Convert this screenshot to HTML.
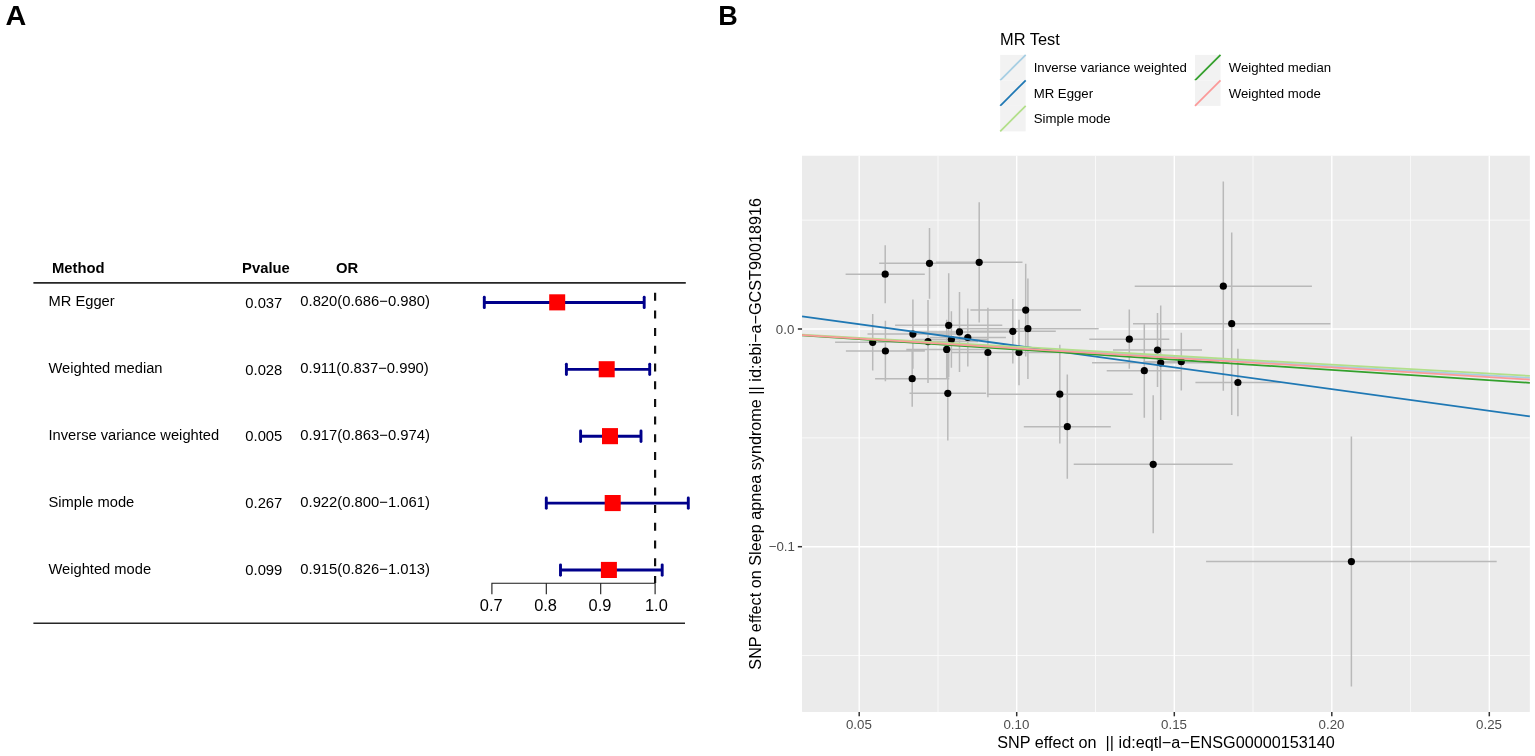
<!DOCTYPE html>
<html lang="en"><head><meta charset="utf-8"><title>MR forest and scatter plot</title>
<style>html,body{margin:0;padding:0;background:#fff;}body{width:1535px;height:756px;overflow:hidden;}svg{display:block;}text{font-family:"Liberation Sans",sans-serif;fill:#000;}</style>
</head><body>
<svg width="1535" height="756" viewBox="0 0 1535 756">
<rect x="0" y="0" width="1535" height="756" fill="#ffffff"/>
<text transform="translate(5.5,25) scale(1.065,1)" font-size="27" font-weight="bold">A</text>
<text x="718.2" y="24.9" font-size="27" font-weight="bold">B</text>
<g id="forest">
<line x1="33.4" y1="282.85" x2="685.8" y2="282.85" stroke="#262626" stroke-width="1.7"/>
<line x1="33.4" y1="623.3" x2="685" y2="623.3" stroke="#262626" stroke-width="1.5"/>
<text x="52" y="273.3" font-size="14.8" font-weight="bold">Method</text>
<text x="242.1" y="273.1" font-size="14.8" font-weight="bold">Pvalue</text>
<text x="336.1" y="273.1" font-size="14.8" font-weight="bold">OR</text>
<text x="48.5" y="306.1" font-size="14.7">MR Egger</text>
<text x="245.3" y="307.6" font-size="14.8">0.037</text>
<text x="300.3" y="306.2" font-size="14.8">0.820(0.686−0.980)</text>
<text x="48.5" y="373.0" font-size="14.7">Weighted median</text>
<text x="245.3" y="374.5" font-size="14.8">0.028</text>
<text x="300.3" y="373.1" font-size="14.8">0.911(0.837−0.990)</text>
<text x="48.5" y="439.9" font-size="14.7">Inverse variance weighted</text>
<text x="245.3" y="441.4" font-size="14.8">0.005</text>
<text x="300.3" y="440.1" font-size="14.8">0.917(0.863−0.974)</text>
<text x="48.5" y="506.9" font-size="14.7">Simple mode</text>
<text x="245.3" y="508.4" font-size="14.8">0.267</text>
<text x="300.3" y="507.0" font-size="14.8">0.922(0.800−1.061)</text>
<text x="48.5" y="573.8" font-size="14.7">Weighted mode</text>
<text x="245.3" y="575.2" font-size="14.8">0.099</text>
<text x="300.3" y="573.9" font-size="14.8">0.915(0.826−1.013)</text>
<line x1="655.1" y1="292.7" x2="655.1" y2="583" stroke="#111" stroke-width="2.2" stroke-dasharray="8 9.7"/>
<g stroke="#00008b" stroke-width="2.9" stroke-linecap="round"><line x1="484.3" y1="302.45" x2="644.2" y2="302.45" stroke-linecap="butt"/><line x1="484.3" y1="297.25" x2="484.3" y2="307.65"/><line x1="644.2" y1="297.25" x2="644.2" y2="307.65"/></g>
<rect x="549.2" y="294.3" width="16" height="16.1" fill="#fe0000"/>
<g stroke="#00008b" stroke-width="2.9" stroke-linecap="round"><line x1="566.4" y1="369.35" x2="649.7" y2="369.35" stroke-linecap="butt"/><line x1="566.4" y1="364.15000000000003" x2="566.4" y2="374.55"/><line x1="649.7" y1="364.15000000000003" x2="649.7" y2="374.55"/></g>
<rect x="598.7" y="361.2" width="16" height="16.1" fill="#fe0000"/>
<g stroke="#00008b" stroke-width="2.9" stroke-linecap="round"><line x1="580.6" y1="436.25" x2="641.0" y2="436.25" stroke-linecap="butt"/><line x1="580.6" y1="431.05" x2="580.6" y2="441.45"/><line x1="641.0" y1="431.05" x2="641.0" y2="441.45"/></g>
<rect x="602.0" y="428.1" width="16" height="16.1" fill="#fe0000"/>
<g stroke="#00008b" stroke-width="2.9" stroke-linecap="round"><line x1="546.3" y1="503.15" x2="688.3" y2="503.15" stroke-linecap="butt"/><line x1="546.3" y1="497.95" x2="546.3" y2="508.34999999999997"/><line x1="688.3" y1="497.95" x2="688.3" y2="508.34999999999997"/></g>
<rect x="604.7" y="495.0" width="16" height="16.1" fill="#fe0000"/>
<g stroke="#00008b" stroke-width="2.9" stroke-linecap="round"><line x1="560.5" y1="570.05" x2="662.2" y2="570.05" stroke-linecap="butt"/><line x1="560.5" y1="564.8499999999999" x2="560.5" y2="575.25"/><line x1="662.2" y1="564.8499999999999" x2="662.2" y2="575.25"/></g>
<rect x="600.9" y="561.9" width="16" height="16.1" fill="#fe0000"/>
<g stroke="#1a1a1a" stroke-width="1.1" fill="none">
<path d="M491.9 594.3V583.2H655.1V594.3"/>
<path d="M546.3 583.2V594.3M600.7 583.2V594.3"/>
</g>
<text x="491.2" y="611.1" font-size="16.4" text-anchor="middle">0.7</text>
<text x="545.6" y="611.1" font-size="16.4" text-anchor="middle">0.8</text>
<text x="600.0" y="611.1" font-size="16.4" text-anchor="middle">0.9</text>
<text x="656.4" y="611.1" font-size="16.4" text-anchor="middle">1.0</text>
</g>
<g id="scatter">
<rect x="802.05" y="155.75" width="727.8" height="556.2" fill="#ebebeb"/>
<g stroke="#fafafa" stroke-width="0.9">
<line x1="938.0" y1="155.75" x2="938.0" y2="712.0"/>
<line x1="1095.5" y1="155.75" x2="1095.5" y2="712.0"/>
<line x1="1253.0" y1="155.75" x2="1253.0" y2="712.0"/>
<line x1="1410.6" y1="155.75" x2="1410.6" y2="712.0"/>
<line x1="802.05" y1="220.1" x2="1529.85" y2="220.1"/>
<line x1="802.05" y1="437.9" x2="1529.85" y2="437.9"/>
<line x1="802.05" y1="655.5" x2="1529.85" y2="655.5"/>
</g>
<g stroke="#ffffff" stroke-width="1.4">
<line x1="859.2" y1="155.75" x2="859.2" y2="712.0"/>
<line x1="1016.7" y1="155.75" x2="1016.7" y2="712.0"/>
<line x1="1174.3" y1="155.75" x2="1174.3" y2="712.0"/>
<line x1="1331.8" y1="155.75" x2="1331.8" y2="712.0"/>
<line x1="1489.3" y1="155.75" x2="1489.3" y2="712.0"/>
<line x1="802.05" y1="329.0" x2="1529.85" y2="329.0"/>
<line x1="802.05" y1="546.7" x2="1529.85" y2="546.7"/>
</g>
<path d="M885.2 245.2V303.2M929.5 227.9V298.7M979.2 202.2V322.4M872.7 314.0V370.6M885.4 320.8V381.2M912.9 299.5V368.7M912.2 350.7V406.7M928.0 300.1V383.1M948.7 273.3V377.3M946.7 319.8V379.0M951.4 311.3V367.7M959.5 291.9V371.9M967.8 308.4V366.6M987.9 307.8V397.2M1012.8 299.1V363.5M1025.7 263.8V356.4M1027.9 278.5V378.9M1019.0 319.8V385.2M947.8 346.1V440.5M1059.8 344.8V443.6M1067.3 374.6V478.8M1129.3 309.6V368.8M1157.5 313.0V387.0M1160.7 305.5V420.1M1181.3 332.8V390.6M1144.3 323.7V417.7M1237.9 348.7V416.3M1223.3 181.6V390.8M1231.7 232.4V415.0M1153.2 395.3V533.3M1351.4 436.6V686.6M845.6 274.2H924.8M879.2 263.3H979.8M935.9 262.3H1022.5M835.1 342.3H910.3M845.9 351.0H924.9M867.5 334.1H958.3M875.1 378.7H949.3M878.0 341.6H978.0M895.1 325.3H1002.3M906.3 349.4H987.1M914.4 339.5H988.4M909.5 331.9H1009.5M929.7 337.5H1005.9M950.9 352.5H1024.9M969.8 331.3H1055.8M970.4 310.1H1081.0M957.1 328.7H1098.7M977.0 352.5H1061.0M909.5 393.3H986.1M986.9 394.2H1132.7M1023.8 426.7H1110.8M1089.3 339.2H1169.3M1113.0 350.0H1202.0M1092.0 362.8H1229.4M1143.3 361.7H1219.3M1106.7 370.7H1181.9M1195.4 382.5H1280.4M1134.7 286.2H1311.9M1133.0 323.7H1330.4M1073.7 464.3H1232.7M1206.1 561.6H1496.7" stroke="#b9b9b9" stroke-width="1.5" fill="none"/>
<g fill="#000">
<circle cx="885.2" cy="274.2" r="3.6"/>
<circle cx="929.5" cy="263.3" r="3.6"/>
<circle cx="979.2" cy="262.3" r="3.6"/>
<circle cx="872.7" cy="342.3" r="3.6"/>
<circle cx="885.4" cy="351.0" r="3.6"/>
<circle cx="912.9" cy="334.1" r="3.6"/>
<circle cx="912.2" cy="378.7" r="3.6"/>
<circle cx="928.0" cy="341.6" r="3.6"/>
<circle cx="948.7" cy="325.3" r="3.6"/>
<circle cx="946.7" cy="349.4" r="3.6"/>
<circle cx="951.4" cy="339.5" r="3.6"/>
<circle cx="959.5" cy="331.9" r="3.6"/>
<circle cx="967.8" cy="337.5" r="3.6"/>
<circle cx="987.9" cy="352.5" r="3.6"/>
<circle cx="1012.8" cy="331.3" r="3.6"/>
<circle cx="1025.7" cy="310.1" r="3.6"/>
<circle cx="1027.9" cy="328.7" r="3.6"/>
<circle cx="1019.0" cy="352.5" r="3.6"/>
<circle cx="947.8" cy="393.3" r="3.6"/>
<circle cx="1059.8" cy="394.2" r="3.6"/>
<circle cx="1067.3" cy="426.7" r="3.6"/>
<circle cx="1129.3" cy="339.2" r="3.6"/>
<circle cx="1157.5" cy="350.0" r="3.6"/>
<circle cx="1160.7" cy="362.8" r="3.6"/>
<circle cx="1181.3" cy="361.7" r="3.6"/>
<circle cx="1144.3" cy="370.7" r="3.6"/>
<circle cx="1237.9" cy="382.5" r="3.6"/>
<circle cx="1223.3" cy="286.2" r="3.6"/>
<circle cx="1231.7" cy="323.7" r="3.6"/>
<circle cx="1153.2" cy="464.3" r="3.6"/>
<circle cx="1351.4" cy="561.6" r="3.6"/>
</g>
<line x1="802.05" y1="335.0" x2="1529.85" y2="377.8" stroke="#a6cee3" stroke-width="1.75"/>
<line x1="802.05" y1="316.3" x2="1529.85" y2="416.4" stroke="#1f78b4" stroke-width="1.75"/>
<line x1="802.05" y1="334.6" x2="1529.85" y2="375.9" stroke="#b2df8a" stroke-width="1.75"/>
<line x1="802.05" y1="335.5" x2="1529.85" y2="382.8" stroke="#33a02c" stroke-width="1.75"/>
<line x1="802.05" y1="335.2" x2="1529.85" y2="379.6" stroke="#fb9a99" stroke-width="1.75"/>
<g stroke="#333333" stroke-width="1.5">
<line x1="859.2" y1="712.0" x2="859.2" y2="716.3"/>
<line x1="1016.7" y1="712.0" x2="1016.7" y2="716.3"/>
<line x1="1174.3" y1="712.0" x2="1174.3" y2="716.3"/>
<line x1="1331.8" y1="712.0" x2="1331.8" y2="716.3"/>
<line x1="1489.3" y1="712.0" x2="1489.3" y2="716.3"/>
<line x1="797.8499999999999" y1="329.0" x2="802.05" y2="329.0"/>
<line x1="797.8499999999999" y1="546.7" x2="802.05" y2="546.7"/>
</g>
<text x="858.9" y="729.1" font-size="13.3" text-anchor="middle" style="fill:#4d4d4d">0.05</text>
<text x="1016.4" y="729.1" font-size="13.3" text-anchor="middle" style="fill:#4d4d4d">0.10</text>
<text x="1174.0" y="729.1" font-size="13.3" text-anchor="middle" style="fill:#4d4d4d">0.15</text>
<text x="1331.5" y="729.1" font-size="13.3" text-anchor="middle" style="fill:#4d4d4d">0.20</text>
<text x="1489.0" y="729.1" font-size="13.3" text-anchor="middle" style="fill:#4d4d4d">0.25</text>
<text x="794.3" y="333.6" font-size="13.3" text-anchor="end" style="fill:#4d4d4d">0.0</text>
<text x="794.9" y="551.2" font-size="13.3" text-anchor="end" style="fill:#4d4d4d">−0.1</text>
<text id="xt" x="1166" y="747.7" font-size="16.22" text-anchor="middle" xml:space="preserve" style="white-space:pre">SNP effect on  || id:eqtl−a−ENSG00000153140</text>
<text id="yt" transform="translate(761,433.8) rotate(-90)" font-size="16.22" text-anchor="middle">SNP effect on Sleep apnea syndrome || id:ebi−a−GCST90018916</text>
<text x="1000" y="45" font-size="16.4">MR Test</text>
<rect x="1000.2" y="54.9" width="25.5" height="25.5" fill="#f2f2f2"/>
<line x1="1000.2" y1="80.4" x2="1025.7" y2="54.9" stroke="#a6cee3" stroke-width="1.75"/>
<text x="1033.7" y="72.4" font-size="13.2">Inverse variance weighted</text>
<rect x="1000.2" y="80.4" width="25.5" height="25.5" fill="#f2f2f2"/>
<line x1="1000.2" y1="105.9" x2="1025.7" y2="80.4" stroke="#1f78b4" stroke-width="1.75"/>
<text x="1033.7" y="97.9" font-size="13.2">MR Egger</text>
<rect x="1000.2" y="105.9" width="25.5" height="25.5" fill="#f2f2f2"/>
<line x1="1000.2" y1="131.4" x2="1025.7" y2="105.9" stroke="#b2df8a" stroke-width="1.75"/>
<text x="1033.7" y="123.4" font-size="13.2">Simple mode</text>
<rect x="1195.0" y="54.9" width="25.5" height="25.5" fill="#f2f2f2"/>
<line x1="1195.0" y1="80.4" x2="1220.5" y2="54.9" stroke="#33a02c" stroke-width="1.75"/>
<text x="1228.7" y="72.4" font-size="13.2">Weighted median</text>
<rect x="1195.0" y="80.4" width="25.5" height="25.5" fill="#f2f2f2"/>
<line x1="1195.0" y1="105.9" x2="1220.5" y2="80.4" stroke="#fb9a99" stroke-width="1.75"/>
<text x="1228.7" y="97.9" font-size="13.2">Weighted mode</text>
</g>
</svg>
</body></html>
